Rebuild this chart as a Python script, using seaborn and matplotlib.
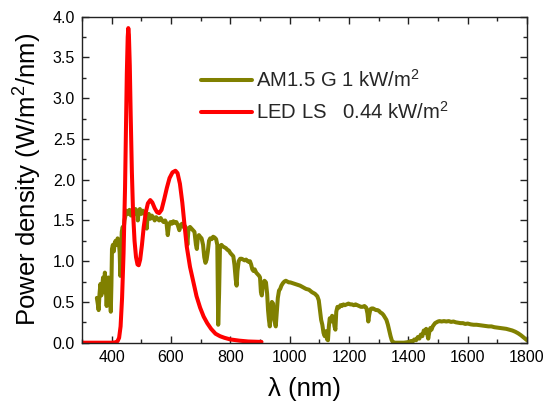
import numpy as np
import pandas as pd
import matplotlib
matplotlib.use("Agg")
import matplotlib.pyplot as plt
from matplotlib.ticker import MultipleLocator
import seaborn as sns

# ---------------- data ----------------
am_wl = [350, 353, 356, 359, 362, 365, 368, 371, 374, 377, 380, 383, 386, 389, 392, 395, 397, 399,
         401, 404, 407, 410, 413, 416, 420, 424, 427, 429, 431, 434, 437, 440, 443, 446, 450, 455,
         460, 465, 470, 475, 480, 485, 488, 491, 495, 500, 505, 510, 515, 518, 521, 525, 530, 535,
         540, 545, 550, 555, 560, 565, 570, 575, 580, 585, 589, 593, 598, 603, 608, 613, 618, 623,
         628, 632, 637, 642, 647, 651, 655, 659, 664, 669, 674, 679, 684, 687, 690, 694, 698, 703,
         708, 712, 716, 720, 724, 728, 732, 737, 742, 747, 752, 756, 759, 762, 765, 770, 775, 780,
         785, 790, 795, 800, 805, 810, 814, 818, 821, 824, 828, 833, 838, 843, 848, 853, 858, 863,
         866, 870, 874, 878, 882, 887, 892, 897, 900, 903, 906, 910, 915, 920, 924, 927, 930, 933,
         936, 940, 944, 947, 950, 953, 956, 960, 964, 968, 972, 977, 982, 987, 992, 997, 1002, 1010,
         1018, 1026, 1035, 1045, 1055, 1065, 1075, 1085, 1093, 1098, 1102, 1106, 1110, 1114, 1118,
         1122, 1126, 1129, 1132, 1135, 1139, 1143, 1147, 1151, 1154, 1157, 1161, 1166, 1171, 1176,
         1181, 1186, 1192, 1198, 1204, 1210, 1216, 1222, 1228, 1234, 1240, 1246, 1252, 1258, 1262,
         1265, 1268, 1272, 1276, 1281, 1286, 1291, 1296, 1301, 1306, 1311, 1316, 1321, 1326, 1331,
         1336, 1340, 1344, 1348, 1355, 1365, 1375, 1385, 1395, 1402, 1408, 1414, 1420, 1426, 1432,
         1437, 1442, 1447, 1452, 1456, 1460, 1464, 1467, 1470, 1474, 1478, 1482, 1486, 1490, 1495,
         1500, 1505, 1512, 1520, 1528, 1536, 1544, 1552, 1560, 1568, 1576, 1584, 1592, 1600, 1610,
         1620, 1630, 1640, 1650, 1660, 1670, 1680, 1690, 1700, 1710, 1720, 1730, 1740, 1750, 1760,
         1770, 1780, 1790, 1800]
am_val = [0.55, 0.48, 0.40, 0.60, 0.72, 0.58, 0.70, 0.80, 0.62, 0.86, 0.70, 0.45, 0.68, 0.80, 0.74, 0.55, 0.38, 0.70,
          1.15, 1.20, 1.12, 1.22, 1.25, 1.20, 1.28, 1.24, 1.10, 0.82, 1.05, 1.36, 1.42, 1.38, 1.50, 1.55, 1.62, 1.58,
          1.63, 1.56, 1.62, 1.58, 1.64, 1.60, 1.50, 1.62, 1.64, 1.58, 1.62, 1.60, 1.55, 1.40, 1.56, 1.58, 1.52, 1.56,
          1.54, 1.50, 1.54, 1.52, 1.50, 1.53, 1.50, 1.48, 1.50, 1.46, 1.32, 1.44, 1.48, 1.46, 1.49, 1.47, 1.48, 1.44,
          1.38, 1.44, 1.46, 1.42, 1.43, 1.40, 1.20, 1.40, 1.42, 1.40, 1.38, 1.36, 1.20, 1.15, 1.28, 1.32, 1.30, 1.28,
          1.20, 1.05, 0.98, 1.02, 1.12, 1.25, 1.28, 1.27, 1.30, 1.29, 1.27, 1.20, 0.22, 0.60, 1.18, 1.20, 1.18, 1.17,
          1.16, 1.14, 1.13, 1.10, 1.08, 1.06, 0.95, 0.78, 0.70, 0.88, 1.00, 1.03, 1.03, 1.02, 1.01, 1.02, 1.00, 0.99,
          1.00, 0.96, 0.90, 0.88, 0.90, 0.86, 0.84, 0.82, 0.80, 0.62, 0.58, 0.72, 0.76, 0.74, 0.60, 0.40, 0.28, 0.20,
          0.35, 0.50, 0.48, 0.30, 0.25, 0.20, 0.35, 0.55, 0.64, 0.66, 0.70, 0.73, 0.75, 0.76, 0.75, 0.74, 0.74, 0.73,
          0.72, 0.71, 0.70, 0.68, 0.66, 0.65, 0.62, 0.60, 0.57, 0.52, 0.40, 0.28, 0.22, 0.12, 0.08,
          0.14, 0.04, 0.03, 0.20, 0.30, 0.26, 0.33, 0.31, 0.20, 0.16, 0.38, 0.44, 0.43, 0.46, 0.45,
          0.47, 0.46, 0.47, 0.48, 0.47, 0.47, 0.46, 0.47, 0.46, 0.45, 0.44, 0.44, 0.45, 0.43, 0.36,
          0.26, 0.34, 0.41, 0.42, 0.42, 0.41, 0.40, 0.40, 0.39, 0.37, 0.36, 0.34, 0.31, 0.28, 0.22,
          0.14, 0.08, 0.03, 0.005, 0.0, 0.0, 0.0, 0.0, 0.005, 0.01, 0.02, 0.01, 0.04, 0.03, 0.07,
          0.05, 0.10, 0.08, 0.15, 0.12, 0.17, 0.10, 0.05, 0.12, 0.18, 0.16, 0.20, 0.22, 0.24, 0.25,
          0.26, 0.265, 0.26, 0.265, 0.26, 0.265, 0.255, 0.26, 0.25, 0.245, 0.24, 0.24, 0.23, 0.235, 0.225,
          0.22, 0.22, 0.215, 0.21, 0.205, 0.20, 0.20, 0.19, 0.185, 0.18, 0.175, 0.17, 0.16, 0.15, 0.135,
          0.115, 0.09, 0.06, 0.03]

led_wl = [300, 350, 400, 415, 420, 425, 430, 435, 440, 445, 448, 451, 454, 456, 458, 461, 464, 468,
          472, 477, 482, 487, 491, 496, 502, 508, 515, 522, 530, 537, 545, 553, 560, 568, 577, 586,
          595, 605, 615, 622, 630, 638, 645, 653, 664, 675, 686, 698, 710, 722, 735, 750, 765, 780,
          800, 830, 860, 900, 905]
led_val = [0.0, 0.0, 0.0, 0.005, 0.02, 0.06, 0.2, 0.55, 1.1, 1.9, 2.6, 3.3, 3.75, 3.86, 3.78, 3.4, 2.8, 2.1,
           1.6, 1.25, 1.05, 0.96, 0.95, 1.02, 1.2, 1.42, 1.6, 1.71, 1.75, 1.72, 1.65, 1.6, 1.59, 1.63, 1.76, 1.9,
           2.02, 2.09, 2.11, 2.08, 1.95, 1.72, 1.46, 1.18, 0.93, 0.75, 0.57, 0.43, 0.32, 0.24, 0.17, 0.11, 0.08, 0.06,
           0.04, 0.025, 0.015, 0.01, 0.01]

am_label = "AM1.5 G 1 kW/m$^2$"
led_label = "LED LS   0.44 kW/m$^2$"
x_label = "λ (nm)"
y_label = "Power density (W/m$^2$/nm)"
x_ticks = [400, 600, 800, 1000, 1200, 1400, 1600, 1800]
y_ticks = [0.0, 0.5, 1.0, 1.5, 2.0, 2.5, 3.0, 3.5, 4.0]

# ---------------- style ----------------
sns.set_theme(style="ticks")
plt.rcParams["font.family"] = ["Liberation Sans", "DejaVu Sans"]
plt.rcParams["mathtext.fontset"] = "custom"
plt.rcParams["mathtext.rm"] = "Liberation Sans"
plt.rcParams["mathtext.it"] = "Liberation Sans:italic"
plt.rcParams["mathtext.bf"] = "Liberation Sans:bold"
plt.rcParams["mathtext.default"] = "regular"

fig = plt.figure(figsize=(5.49, 4.07), dpi=100)
ax = fig.add_axes([0.1494, 0.158, 0.8106, 0.801])

am_df = pd.DataFrame({"wl": am_wl, "val": am_val})
led_df = pd.DataFrame({"wl": led_wl, "val": led_val})

sns.lineplot(data=am_df, x="wl", y="val", ax=ax, color="#808000", linewidth=2.9,
             estimator=None, sort=False, label=am_label)
sns.lineplot(data=led_df, x="wl", y="val", ax=ax, color="#ff0000", linewidth=2.9,
             estimator=None, sort=False, label=led_label)

ax.set_xlim(300, 1800)
ax.set_ylim(0, 4.0)
ax.set_xticks(x_ticks)
ax.set_yticks(y_ticks)
ax.set_yticklabels([f"{v:.1f}" for v in y_ticks])
ax.xaxis.set_minor_locator(MultipleLocator(100))
ax.yaxis.set_minor_locator(MultipleLocator(0.25))
ax.tick_params(which="both", direction="in", top=True, right=True, color="#222222", width=1.0)
ax.tick_params(which="major", length=5, labelsize=11.5, pad=5, labelcolor="black")
ax.tick_params(which="minor", length=3)
for s in ax.spines.values():
    s.set_linewidth(1.0)
    s.set_color("#222222")

ax.set_xlabel(x_label, fontsize=18.5, labelpad=9, color="black")
ax.set_ylabel(y_label, fontsize=18.5, labelpad=6, color="black")

leg = ax.legend(loc="upper left", bbox_to_anchor=(0.25, 0.865), frameon=False, fontsize=14.6,
                handlelength=2.5, handletextpad=0.2, labelspacing=0.5, borderaxespad=0)
for line in leg.get_lines():
    line.set_linewidth(2.9)

fig.savefig("out.png", dpi=100)
